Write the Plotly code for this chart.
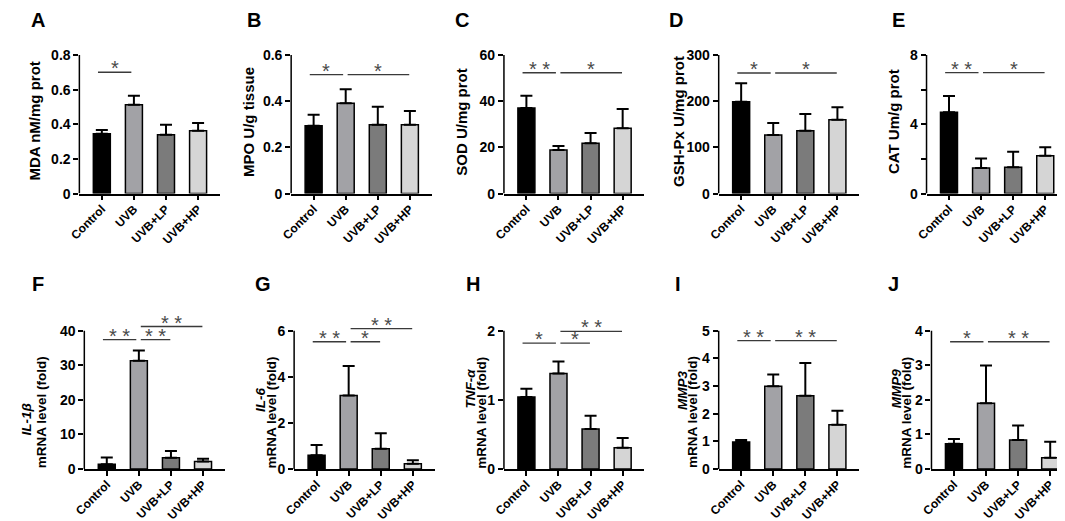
import plotly.graph_objects as go

# ------------------------------------------------------------
# data (mean, upper SD) - 4 groups per panel
# ------------------------------------------------------------
CATEGORIES = ["Control", "UVB", "UVB+LP", "UVB+HP"]
BAR_COLORS = ["#000000", "#a2a2a6", "#7b7b7b", "#d5d5d5"]

mda_mean = [0.345, 0.513, 0.339, 0.362]
mda_sd = [0.022, 0.052, 0.058, 0.045]
mpo_mean = [0.294, 0.391, 0.298, 0.298]
mpo_sd = [0.047, 0.061, 0.078, 0.060]
sod_mean = [37.0, 18.9, 21.8, 28.3]
sod_sd = [5.4, 1.7, 4.4, 8.3]
gsh_mean = [199, 127, 136, 160]
gsh_sd = [40, 26, 36, 27]
cat_mean = [4.70, 1.48, 1.52, 2.18]
cat_sd = [0.93, 0.55, 0.89, 0.49]

il1b_mean = [1.42, 31.3, 3.3, 2.2]
il1b_sd = [1.9, 3.0, 1.9, 0.8]
il6_mean = [0.60, 3.19, 0.88, 0.23]
il6_sd = [0.44, 1.28, 0.67, 0.15]
tnf_mean = [1.04, 1.38, 0.58, 0.31]
tnf_sd = [0.12, 0.175, 0.19, 0.14]
mmp3_mean = [0.98, 2.99, 2.65, 1.60]
mmp3_sd = [0.07, 0.43, 1.18, 0.51]
mmp9_mean = [0.73, 1.90, 0.84, 0.33]
mmp9_sd = [0.14, 1.09, 0.42, 0.46]

# significance brackets: (group a, group b, line level, label)
mda_sig = [(0, 1, 0.70, "*")]
mpo_sig = [(0, 1, 0.515, "*"), (1, 3, 0.515, "*")]
sod_sig = [(0, 1, 52.3, "**"), (1, 3, 52.3, "*")]
gsh_sig = [(0, 1, 261, "*"), (1, 3, 261, "*")]
cat_sig = [(0, 1, 6.98, "**"), (1, 3, 6.98, "*")]
il1b_sig = [(0, 1, 37.4, "**"), (1, 2, 37.4, "**"), (1, 3, 41.2, "**")]
il6_sig = [(0, 1, 5.52, "**"), (1, 2, 5.52, "*"), (1, 3, 6.09, "**")]
tnf_sig = [(0, 1, 1.82, "*"), (1, 2, 1.82, "*"), (1, 3, 1.99, "**")]
mmp3_sig = [(0, 1, 4.64, "**"), (1, 3, 4.64, "**")]
mmp9_sig = [(0, 1, 3.68, "*"), (1, 3, 3.68, "**")]

# y axis ticks
mda_ticks = [0, 0.2, 0.4, 0.6, 0.8]
mpo_ticks = [0, 0.2, 0.4, 0.6]
sod_ticks = [0, 20, 40, 60]
gsh_ticks = [0, 100, 200, 300]
cat_ticks = [0, 2, 4, 6, 8]
cat_ticktext = ["0", "", "4", "", "8"]
il1b_ticks = [0, 10, 20, 30, 40]
il6_ticks = [0, 2, 4, 6]
tnf_ticks = [0, 1, 2]
mmp3_ticks = [0, 1, 2, 3, 4, 5]
mmp9_ticks = [0, 1, 2, 3, 4]

# ------------------------------------------------------------
# panel table: letter, title lines, mean, sd, sig, ticks, ticktext, row
# ------------------------------------------------------------
panels = [
    ("A", ["MDA nM/mg prot"], mda_mean, mda_sd, mda_sig, mda_ticks, None, 0),
    ("B", ["MPO U/g tissue"], mpo_mean, mpo_sd, mpo_sig, mpo_ticks, None, 0),
    ("C", ["SOD U/mg prot"], sod_mean, sod_sd, sod_sig, sod_ticks, None, 0),
    ("D", ["GSH-Px U/mg prot"], gsh_mean, gsh_sd, gsh_sig, gsh_ticks, None, 0),
    ("E", ["CAT Um/g prot"], cat_mean, cat_sd, cat_sig, cat_ticks, cat_ticktext, 0),
    ("F", ["<i>IL-1β</i>", "mRNA level (fold)"], il1b_mean, il1b_sd, il1b_sig, il1b_ticks, None, 1),
    ("G", ["<i>IL-6</i>", "mRNA level (fold)"], il6_mean, il6_sd, il6_sig, il6_ticks, None, 1),
    ("H", ["<i>TNF-α</i>", "mRNA level (fold)"], tnf_mean, tnf_sd, tnf_sig, tnf_ticks, None, 1),
    ("I", ["<i>MMP3</i>", "mRNA level (fold)"], mmp3_mean, mmp3_sd, mmp3_sig, mmp3_ticks, None, 1),
    ("J", ["<i>MMP9</i>", "mRNA level (fold)"], mmp9_mean, mmp9_sd, mmp9_sig, mmp9_ticks, None, 1),
]

# ------------------------------------------------------------
# layout geometry (pixels in a 1065 x 521 canvas)
# ------------------------------------------------------------
W, H = 1065, 521
axis_left = [61, 275, 490, 707, 917, 66, 278, 490, 707, 922]
axis_w = 142
row_zero = [188.5, 468.3]   # pixel of value 0
row_top = [47.7, 327.7]     # pixel of top tick
headroom = 1.1
# centre x (px) of each title line, height as fraction of top tick
title_cx = [[15.7], [232.3], [447.3], [666.7], [884],
            [8, 23.5], [245, 255], [456.7, 467.5], [670, 681], [887, 897]]
title_fy = [[0.52], [0.52], [0.52], [0.52], [0.52],
            [0.36, 0.41], [0.5, 0.41], [0.58, 0.41], [0.57, 0.41], [0.58, 0.41]]
letter_xy = [(19, 12), (237, 12), (448, 12), (664, 12), (889, 12),
             (19, 280), (247, 280), (459, 280), (666, 280), (884, 280)]
XRANGE = [-0.7, 3.68]

FONT = "Liberation Sans, Arial, sans-serif"

fig = go.Figure()
shapes, annotations = [], []

for n, (letter, title, mean, sd, sig, ticks, ticktext, row) in enumerate(panels):
    k = "" if n == 0 else str(n + 1)
    xa, ya = "x" + k, "y" + k
    top = ticks[-1]

    fig.add_trace(go.Bar(
        x=list(range(len(CATEGORIES))), y=mean,
        xaxis=xa, yaxis=ya,
        width=0.53,
        marker=dict(color=BAR_COLORS, line=dict(color="black", width=1.5)),
        error_y=dict(type="data", array=sd, arrayminus=[0] * len(sd),
                     symmetric=False, color="black", thickness=2, width=6),
        showlegend=False,
        hovertemplate="%{y}<extra></extra>",
    ))

    z, t = row_zero[row], row_top[row]
    ytop_px = z - headroom * (z - t)
    x0 = axis_left[n]

    fig.layout["xaxis" + k] = dict(
        domain=[x0 / W, (x0 + axis_w) / W],
        anchor=ya, range=XRANGE,
        tickvals=list(range(len(CATEGORIES))), ticktext=CATEGORIES,
        tickangle=-45, ticklabelstandoff=-3,
        showline=True, linecolor="black", linewidth=1.5,
        ticks="outside", ticklen=5, tickwidth=1.5, tickcolor="black",
        showgrid=False, zeroline=False, fixedrange=True,
        tickfont=dict(family=FONT, size=12, color="black", weight="bold"),
    )
    fig.layout["yaxis" + k] = dict(
        domain=[(H - z) / H, (H - ytop_px) / H],
        anchor=xa, range=[0, top * headroom],
        tickvals=ticks, ticktext=ticktext if ticktext else [f"{v:g}" for v in ticks],
        showline=False,
        ticks="outside", ticklen=5, tickwidth=1.5, tickcolor="black",
        showgrid=False, zeroline=False, fixedrange=True,
        tickfont=dict(family=FONT, size=14, color="black", weight="bold"),
    )

    # y axis line stopping at the top tick
    shapes.append(dict(type="line", xref=xa + " domain", yref=ya,
                       x0=0, x1=0, y0=0, y1=top,
                       line=dict(color="black", width=1.5)))

    # significance brackets
    for a, b, lev, lab in sig:
        if b == 1:
            sx0, sx1 = a - 0.12, b - 0.08
        else:
            sx0, sx1 = a + 0.06, b - 0.02
        shapes.append(dict(type="line", xref=xa, yref=ya,
                           x0=sx0, x1=sx1, y0=lev, y1=lev,
                           line=dict(color="#3a3a3a", width=1.4)))
        annotations.append(dict(
            xref=xa, yref=ya, x=(sx0 + sx1) / 2, y=lev,
            text=lab.replace("**", "* *"), showarrow=False,
            xanchor="center", yanchor="middle", yshift=4,
            font=dict(family=FONT, size=20, color="#4a4a4a"),
        ))

    # y axis title, one annotation per line
    for line_text, cx, fy in zip(title, title_cx[n], title_fy[n]):
        annotations.append(dict(
            xref=xa + " domain", yref=ya, x=0, y=top * fy,
            xshift=cx - x0, text=line_text, textangle=-90, showarrow=False,
            xanchor="center", yanchor="middle",
            font=dict(family=FONT, size=15 if row == 0 else 13.5,
                      color="black", weight="bold"),
        ))

    # panel letter
    lx, ly = letter_xy[n]
    annotations.append(dict(
        xref="paper", yref="paper", x=lx / W, y=1 - ly / H,
        text=letter, showarrow=False, xanchor="center", yanchor="middle",
        font=dict(family=FONT, size=20, color="black", weight="bold"),
    ))

fig.update_layout(
    width=W, height=H,
    margin=dict(l=0, r=0, t=0, b=0),
    paper_bgcolor="white", plot_bgcolor="white",
    shapes=shapes, annotations=annotations,
    font=dict(family=FONT, color="black"),
)

fig.write_html("out.html")
